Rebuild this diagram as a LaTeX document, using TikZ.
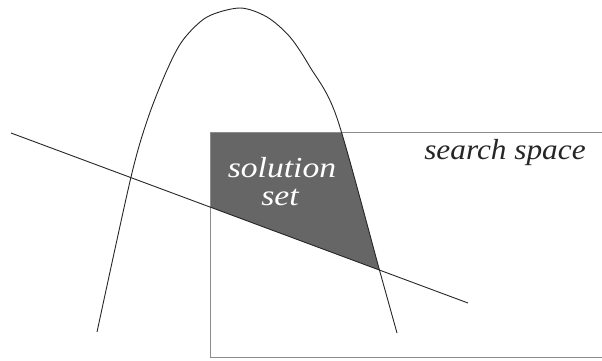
\documentclass[tikz,border=0pt]{standalone}
\usepackage{fontspec}
\setmainfont{Liberation Serif}
\begin{document}
\begin{tikzpicture}[x=1pt,y=-1pt,
  thin line/.style={line width=0.9pt,draw=black!85},
  box line/.style={line width=1pt,draw=black!45},
  label text/.style={font=\fontsize{29}{28}\selectfont\itshape,inner sep=0pt,anchor=base}]
\useasboundingbox (0,0) rectangle (602,360);
% shaded solution set
\begin{scope}
  \clip (210,132) rectangle (602,358);
  \clip (11,133) -- (468,303) -- (602,353) -- (602,0) -- (0,0) -- (0,129) -- cycle;
  \fill[black!60] plot[smooth,tension=0.5] coordinates {(97,332) (131,177) (148,118) (167,70) (183,40) (207,17) (240,8) (267,17) (290,37) (310,67) (337,118) (380,272) (397,333)} -- cycle;
\end{scope}
% search space boundary
\draw[box line] (602,132) -- (210,132) -- (210,357) -- (602,357);
% curve
\draw[thin line] plot[smooth,tension=0.5] coordinates {(97,332) (131,177) (148,118) (167,70) (183,40) (207,17) (240,8) (267,17) (290,37) (310,67) (337,118) (380,272) (397,333)};
% straight line
\coordinate (la) at (11,133);
\coordinate (lb) at (468,303);
\draw[thin line] (la) -- (lb);
% labels
\node[label text,text=white,xscale=1.16] (sol) at (282,177) {solution};
\node[label text,text=white,xscale=1.16] (set) at (280,205) {set};
\node[label text,text=black!85,xscale=1.08] (ss) at (505,159) {search space};
\end{tikzpicture}
\end{document}
